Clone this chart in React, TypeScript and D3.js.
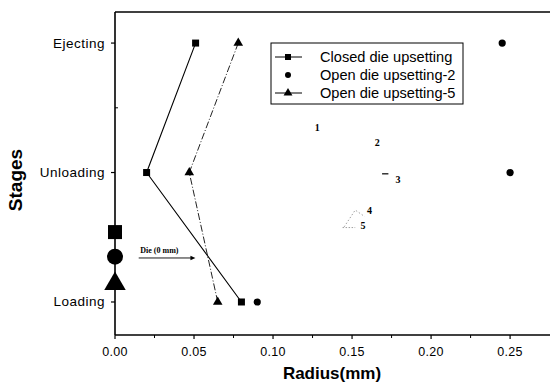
import React, { useRef, useEffect } from 'react';
import * as d3 from 'd3';

// stages from bottom to top
const stages = ["Loading", "Unloading", "Ejecting"];
const closedDie = [0.080, 0.020, 0.051];
const openDie2 = [0.090, 0.250, 0.245];
const openDie5 = [0.065, 0.047, 0.078];

const xTicks = [0, 0.05, 0.10, 0.15, 0.20, 0.25];
const xMinorTicks = [0.025, 0.075, 0.125, 0.175, 0.225];
const yMinorTicks = [1.5, 2.5];
const legendNames = ["Closed die upsetting", "Open die upsetting-2", "Open die upsetting-5"];

// big markers sitting on the axis (stage units)
const dieMarkers = [
    { kind: "square", s: 1.54 },
    { kind: "circle", s: 1.35 },
    { kind: "triangle", s: 1.14 },
];

// small numbered notes scattered in the plot
const notes = [
    { t: "1", r: 0.128, s: 2.35 },
    { t: "2", r: 0.166, s: 2.23 },
    { t: "3", r: 0.179, s: 1.95 },
    { t: "4", r: 0.161, s: 1.71 },
    { t: "5", r: 0.157, s: 1.59 },
];

const App = () => {
    const ref = useRef<SVGSVGElement>(null);

    useEffect(() => {
        const svg = d3.select(ref.current);
        svg.selectAll("*").remove();

        const font = "'Liberation Sans', Arial, sans-serif";
        const x = d3.scaleLinear().domain([0, 0.275]).range([115, 549.6]);
        const y = d3.scaleLinear().domain([0.745, 3.24]).range([335, 12]);

        const g = svg.append("g");

        // axes frame
        g.append("line").attr("x1", x(0)).attr("x2", 550).attr("y1", y(0.745)).attr("y2", y(0.745))
            .attr("stroke", "#000").attr("stroke-width", 1.6);
        g.append("line").attr("x1", x(0)).attr("x2", 550).attr("y1", y(3.24)).attr("y2", y(3.24))
            .attr("stroke", "#000").attr("stroke-width", 1.6);
        g.append("line").attr("x1", x(0)).attr("x2", x(0)).attr("y1", y(0.745)).attr("y2", y(3.24))
            .attr("stroke", "#000").attr("stroke-width", 1.6);

        // x ticks
        xTicks.forEach(v => {
            g.append("line").attr("x1", x(v)).attr("x2", x(v)).attr("y1", y(0.745)).attr("y2", y(0.745) + 4)
                .attr("stroke", "#000").attr("stroke-width", 1.2);
            g.append("text").attr("x", x(v)).attr("y", 356).attr("text-anchor", "middle")
                .attr("font-family", font).attr("font-size", 12.5).attr("letter-spacing", 0.3)
                .text(d3.format(".2f")(v));
        });
        xMinorTicks.forEach(v => {
            g.append("line").attr("x1", x(v)).attr("x2", x(v)).attr("y1", y(0.745)).attr("y2", y(0.745) + 3)
                .attr("stroke", "#000").attr("stroke-width", 1);
        });

        // y ticks
        stages.forEach((s, i) => {
            const yy = y(i + 1);
            g.append("line").attr("x1", x(0) - 4).attr("x2", x(0)).attr("y1", yy).attr("y2", yy)
                .attr("stroke", "#000").attr("stroke-width", 1.2);
            g.append("text").attr("x", 105).attr("y", yy + 4.5).attr("text-anchor", "end")
                .attr("font-family", font).attr("font-size", 13.5).attr("letter-spacing", 0.5).text(s);
        });
        yMinorTicks.forEach(v => {
            g.append("line").attr("x1", x(0)).attr("x2", x(0) + 3).attr("y1", y(v)).attr("y2", y(v))
                .attr("stroke", "#000").attr("stroke-width", 1);
        });

        // axis titles
        g.append("text").attr("x", 332).attr("y", 379).attr("text-anchor", "middle")
            .attr("font-family", font).attr("font-size", 17).attr("font-weight", "bold").text("Radius(mm)");
        g.append("text").attr("transform", "translate(22,180) rotate(-90)").attr("text-anchor", "middle")
            .attr("font-family", font).attr("font-size", 19).attr("font-weight", "bold").text("Stages");

        const line = d3.line<number>().x(d => x(d)).y((d, i) => y(i + 1));

        // closed die
        g.append("path").datum(closedDie).attr("d", line).attr("fill", "none")
            .attr("stroke", "#000").attr("stroke-width", 1.1);
        // open die 5
        g.append("path").datum(openDie5).attr("d", line).attr("fill", "none")
            .attr("stroke", "#222").attr("stroke-width", 1).attr("stroke-dasharray", "7,2,1,2");

        const tri = d3.symbol().type(d3.symbolTriangle);
        closedDie.forEach((v, i) => {
            g.append("rect").attr("x", x(v) - 3.5).attr("y", y(i + 1) - 3.5).attr("width", 7).attr("height", 7).attr("fill", "#000");
        });
        openDie2.forEach((v, i) => {
            g.append("circle").attr("cx", x(v)).attr("cy", y(i + 1)).attr("r", 3.6).attr("fill", "#000");
        });
        openDie5.forEach((v, i) => {
            g.append("path").attr("d", tri.size(40)()).attr("transform", `translate(${x(v)},${y(i + 1)})`).attr("fill", "#000");
        });

        // big markers on axis
        dieMarkers.forEach(m => {
            const cy = y(m.s);
            if (m.kind === "square") {
                g.append("rect").attr("x", x(0) - 7).attr("y", cy - 7).attr("width", 14).attr("height", 14).attr("fill", "#000");
            } else if (m.kind === "circle") {
                g.append("circle").attr("cx", x(0)).attr("cy", cy).attr("r", 8).attr("fill", "#000");
            } else {
                g.append("path").attr("d", tri.size(200)()).attr("transform", `translate(${x(0)},${cy})`).attr("fill", "#000");
            }
        });

        // Die (0 mm) arrow
        g.append("text").attr("x", x(0.016)).attr("y", y(1.40) + 3).attr("font-family", "'Liberation Serif', serif")
            .attr("font-size", 8).attr("font-weight", "bold").text("Die (0 mm)");
        g.append("line").attr("x1", x(0.015)).attr("x2", x(0.049)).attr("y1", y(1.34)).attr("y2", y(1.34))
            .attr("stroke", "#000").attr("stroke-width", 0.9);
        g.append("path").attr("d", `M${x(0.049) + 3},${y(1.34)} l-5,-2.2 l0,4.4 z`).attr("fill", "#000");

        // notes
        notes.forEach(n => {
            g.append("text").attr("x", x(n.r)).attr("y", y(n.s) + 3.5).attr("text-anchor", "middle")
                .attr("font-family", "'Liberation Serif', serif").attr("font-size", 10).attr("font-weight", "bold").text(n.t);
        });
        g.append("line").attr("x1", x(0.169)).attr("x2", x(0.173)).attr("y1", y(1.99)).attr("y2", y(1.99))
            .attr("stroke", "#000").attr("stroke-width", 1.2);
        g.append("path").attr("d", `M${x(0.145)},${y(1.58)} L${x(0.152)},${y(1.71)} L${x(0.158)},${y(1.66)}`)
            .attr("fill", "none").attr("stroke", "#888").attr("stroke-width", 0.8).attr("stroke-dasharray", "1.5,2");
        g.append("line").attr("x1", x(0.144)).attr("x2", x(0.152)).attr("y1", y(1.575)).attr("y2", y(1.575))
            .attr("stroke", "#888").attr("stroke-width", 0.8).attr("stroke-dasharray", "1.5,1.5");

        // legend
        const lx = 271, ly = 43;
        g.append("rect").attr("x", lx).attr("y", ly).attr("width", 192).attr("height", 61)
            .attr("fill", "#fff").attr("stroke", "#000").attr("stroke-width", 1);
        legendNames.forEach((name, i) => {
            const yy = ly + 14 + i * 18;
            if (i !== 1) {
                g.append("line").attr("x1", lx + 4).attr("x2", lx + 31).attr("y1", yy).attr("y2", yy)
                    .attr("stroke", "#000").attr("stroke-width", 1);
            }
            if (i === 0) {
                g.append("rect").attr("x", lx + 14).attr("y", yy - 3).attr("width", 6).attr("height", 6).attr("fill", "#000");
            } else if (i === 1) {
                g.append("circle").attr("cx", lx + 17).attr("cy", yy).attr("r", 3).attr("fill", "#000");
            } else {
                g.append("path").attr("d", tri.size(34)()).attr("transform", `translate(${lx + 17},${yy})`).attr("fill", "#000");
            }
            g.append("text").attr("x", lx + 49).attr("y", yy + 5).attr("font-family", font)
                .attr("font-size", 14.6).text(name);
        });
    }, []);

    return (
        <svg ref={ref} width={550} height={385} style={{ position: "absolute", left: 0, top: 0, background: "#fff" }} />
    );
};

export default App;
